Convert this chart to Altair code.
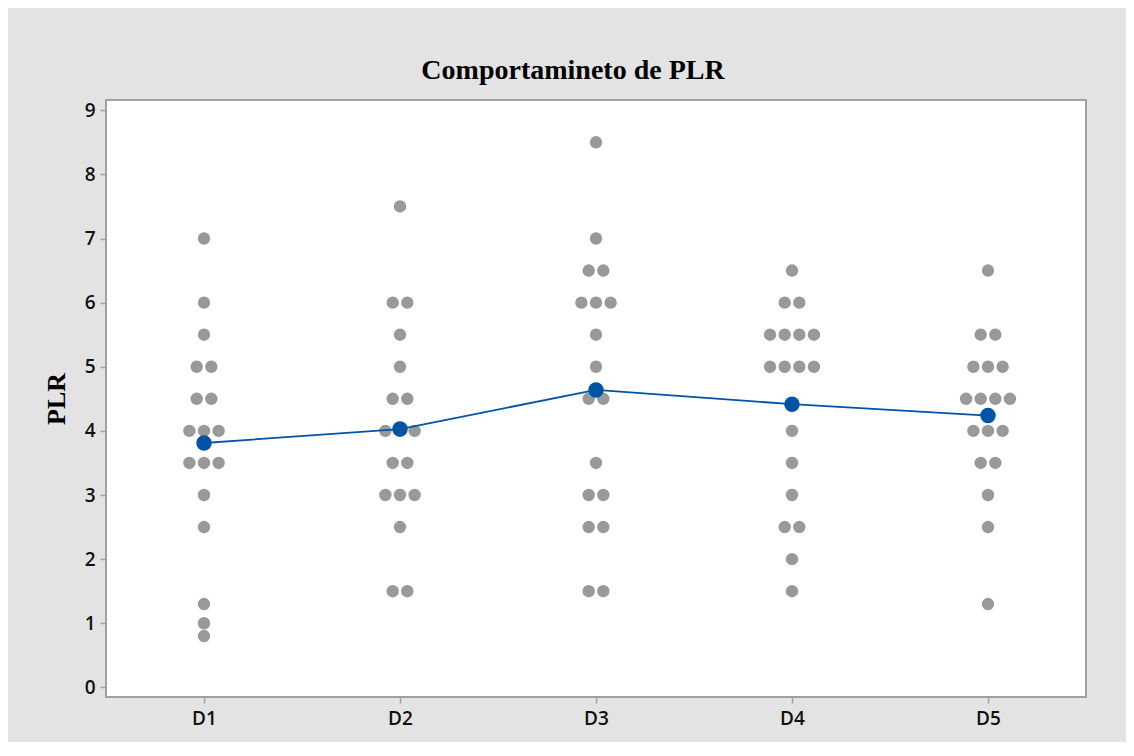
import altair as alt
import pandas as pd

groups = ["D1", "D2", "D3", "D4", "D5"]
d1 = [7, 6, 5.5, 5, 5, 4.5, 4.5, 4, 4, 4, 3.5, 3.5, 3.5, 3, 2.5, 1.3, 1.0, 0.8]
d2 = [7.5, 6, 6, 5.5, 5, 4.5, 4.5, 4, 4, 4, 3.5, 3.5, 3, 3, 3, 2.5, 1.5, 1.5]
d3 = [8.5, 7, 6.5, 6.5, 6, 6, 6, 5.5, 5, 4.5, 4.5, 3.5, 3, 3, 2.5, 2.5, 1.5, 1.5]
d4 = [6.5, 6, 6, 5.5, 5.5, 5.5, 5.5, 5, 5, 5, 5, 4, 3.5, 3, 2.5, 2.5, 2, 1.5]
d5 = [6.5, 5.5, 5.5, 5, 5, 5, 4.5, 4.5, 4.5, 4.5, 4, 4, 4, 3.5, 3.5, 3, 2.5, 1.3]
y_ticks = [0, 1, 2, 3, 4, 5, 6, 7, 8, 9]

rows = []
for i, (g, vals) in enumerate(zip(groups, [d1, d2, d3, d4, d5])):
    for v in vals:
        rows.append({"grp": g, "idx": i + 1, "val": v})
df = pd.DataFrame(rows)

GRAY = "#999999"
BLUE = "#0054A6"
FRAME = "#A0A0A0"
label_expr = "[" + ",".join(f"'{g}'" for g in groups) + "][datum.value-1]"

x_scale = alt.Scale(domain=[0.5, 5.5], nice=False, zero=False)
y_scale = alt.Scale(domain=[-0.15, 9.16], nice=False, zero=False)

x_axis = alt.Axis(values=list(range(1, len(groups) + 1)), labelExpr=label_expr, title=None,
                  grid=False, domain=False, tickSize=6, tickColor=FRAME, tickWidth=1.5,
                  labelPadding=6, labelFont="Open Sans", labelFontWeight=600,
                  labelFontSize=19, labelColor="#111111")
y_axis = alt.Axis(values=y_ticks, title="PLR", grid=False, domain=False, tickSize=6,
                  tickColor=FRAME, tickWidth=1.5, labelPadding=5, labelFont="Open Sans",
                  labelFontWeight=600, labelFontSize=19, labelColor="#111111",
                  titleFont="Liberation Serif", titleFontWeight="bold", titleFontSize=26,
                  titleColor="#000000", titleAngle=270, titleAlign="center",
                  titleBaseline="alphabetic", titleX=-42, titleY=298.5)

dots = (
    alt.Chart(df)
    .transform_window(rank="row_number()", groupby=["grp", "val"])
    .transform_joinaggregate(n="count()", groupby=["grp", "val"])
    .transform_calculate(xpos="datum.idx + (datum.rank - (datum.n + 1) / 2) * 0.0746")
    .mark_circle(size=154, color=GRAY, opacity=1)
    .encode(x=alt.X("xpos:Q", scale=x_scale, axis=x_axis),
            y=alt.Y("val:Q", scale=y_scale, axis=y_axis))
)

mean_base = alt.Chart(df).encode(
    x=alt.X("idx:Q", scale=x_scale, axis=x_axis),
    y=alt.Y("mean(val):Q", scale=y_scale, axis=y_axis),
)
mean_line = mean_base.mark_line(color=BLUE, strokeWidth=1.8)
mean_pts = mean_base.mark_circle(size=240, color=BLUE, opacity=1)

chart = (
    alt.layer(dots, mean_line, mean_pts)
    .properties(
        width=980, height=597,
        title=alt.TitleParams("Comportamineto de PLR", font="Liberation Serif",
                              fontWeight="bold", fontSize=28, color="#000000",
                              anchor="middle", baseline="alphabetic", offset=-7, dx=-23),
        autosize=alt.AutoSizeParams(type="none"),
        padding={"left": 98, "top": 92, "right": 40, "bottom": 45},
        background="#E3E3E3",
    )
    .configure_view(stroke=FRAME, strokeWidth=2, fill="white")
)

chart.save("out.html", embed_options={"renderer": "svg", "actions": False})
